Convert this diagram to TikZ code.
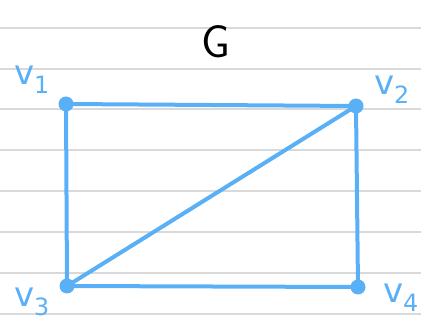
\documentclass[tikz,border=0pt]{standalone}
\usepackage{fontspec}
\setmainfont{DejaVu Sans}
\usepackage{xcolor}
\usepackage{tikz}
\usetikzlibrary{calc,positioning}
\definecolor{bluex}{HTML}{5AB0F7}
\definecolor{rulex}{HTML}{D9D9D9}
\tikzset{
  vx/.style={circle,fill=bluex,inner sep=0pt,minimum size=15pt},
  ed/.style={bluex,line width=4pt},
  lbl/.style={text=bluex,font=\fontsize{34}{34}\selectfont},
  rl/.style={rulex,line width=1.5pt}
}

\begin{document}
\begin{tikzpicture}[x=1pt,y=-1pt]
\useasboundingbox (0,0) rectangle (421,326);
\foreach \y in {28,69,109,150,191,232,273,314}
  \draw[rl] (0,\y)--(421,\y);
\node[font=\fontsize{46}{46}\selectfont\sffamily] (g) at (216,42) {G};
\node[vx] (v1) at (66,104) {};
\node[vx] (v2) at (356,106) {};
\node[vx] (v3) at (67,286) {};
\node[vx] (v4) at (358,287) {};
\draw[ed] (v1.center)--(v2.center)--(v4.center)--(v3.center)--cycle;
\draw[ed] (v3.center)--(v2.center);
\node[lbl] (l1) at (32,80) {v\textsubscript{1}};
\node[lbl] (l2) at (392,90) {v\textsubscript{2}};
\node[lbl] (l3) at (32,302) {v\textsubscript{3}};
\node[lbl] (l4) at (401,298) {v\textsubscript{4}};
\end{tikzpicture}
\end{document}
